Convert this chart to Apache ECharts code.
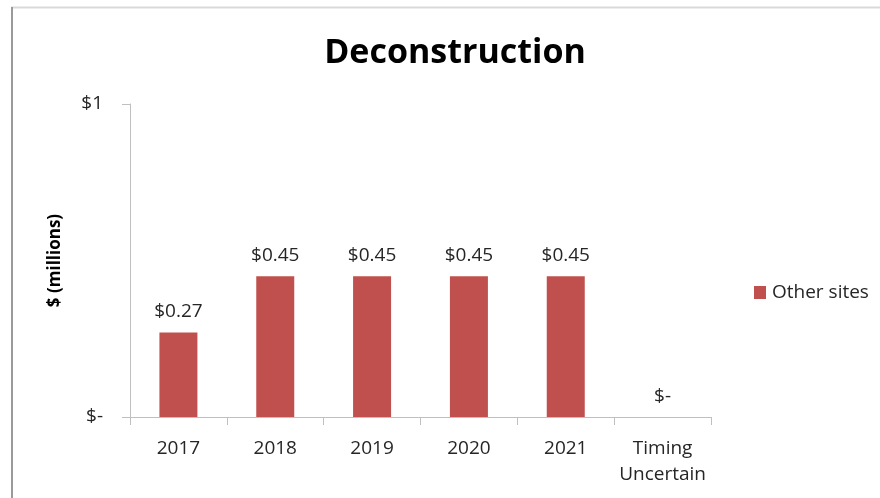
<!DOCTYPE html>
<html>
<head>
<meta charset="utf-8">
<script src="https://cdn.jsdelivr.net/npm/echarts@6/dist/echarts.min.js"></script>
<style>
  html, body { margin: 0; padding: 0; background: #ffffff; }
  #chart { width: 880px; height: 498px; }
</style>
</head>
<body>
<div id="chart"></div>
<script>
// Deconstruction spending by year ($ millions)
const categories = ['2017', '2018', '2019', '2020', '2021', 'Timing\nUncertain'];
const otherSites = [0.27, 0.45, 0.45, 0.45, 0.45, 0];
const seriesName = 'Other sites';
const yTicks = { 0: '$-', 1: '$1' };

const FONT = '"Open Sans", "Noto Sans", sans-serif';
const TEXT = '#262626';

const chart = echarts.init(document.getElementById('chart'), null, { renderer: 'canvas' });

chart.setOption({
  animation: false,
  backgroundColor: '#ffffff',
  textStyle: { fontFamily: FONT },
  title: {
    text: 'Deconstruction',
    left: 450,
    textAlign: 'center',
    top: 31,
    textStyle: { fontFamily: FONT, fontSize: 34, fontWeight: 'bold', color: '#000000' }
  },
  legend: {
    data: [seriesName],
    orient: 'vertical',
    left: 749,
    top: 278,
    itemWidth: 12,
    itemHeight: 13,
    itemGap: 0,
    icon: 'rect',
    textStyle: { fontFamily: FONT, fontSize: 19, color: TEXT, padding: [0, 0, 0, 1] }
  },
  grid: { left: 130, right: 169, top: 104, bottom: 81, containLabel: false },
  xAxis: {
    type: 'category',
    data: categories,
    boundaryGap: true,
    axisLine: { lineStyle: { color: '#bfbfbf', width: 1 } },
    axisTick: { show: true, length: 8, alignWithLabel: false, lineStyle: { color: '#bfbfbf' } },
    axisLabel: {
      interval: 0,
      margin: 19,
      fontFamily: FONT,
      fontSize: 19,
      lineHeight: 26,
      color: TEXT
    }
  },
  yAxis: {
    type: 'value',
    min: 0,
    max: 1,
    interval: 1,
    name: '$ (millions)',
    nameLocation: 'middle',
    nameGap: 66,
    nameRotate: 90,
    nameTextStyle: { fontFamily: FONT, fontSize: 17, fontWeight: 'bold', color: '#000000' },
    axisLine: { show: true, lineStyle: { color: '#bfbfbf', width: 1 } },
    axisTick: { show: true, length: 8, lineStyle: { color: '#bfbfbf' } },
    splitLine: { show: false },
    axisLabel: {
      margin: 27,
      fontFamily: FONT,
      fontSize: 19,
      color: TEXT,
      formatter: v => yTicks[v] !== undefined ? yTicks[v] : ''
    }
  },
  series: [{
    name: seriesName,
    type: 'bar',
    data: otherSites,
    barWidth: 38,
    itemStyle: { color: '#c0504d' },
    label: {
      show: true,
      position: 'top',
      distance: 11,
      fontFamily: FONT,
      fontSize: 19,
      color: TEXT,
      formatter: p => p.value === 0 ? '$-' : '$' + p.value.toFixed(2)
    }
  }],
  graphic: [
    { type: 'line', shape: { x1: 11, y1: 7.5, x2: 880, y2: 7.5 }, style: { stroke: '#d9d9d9', lineWidth: 2 }, silent: true },
    { type: 'line', shape: { x1: 12, y1: 7, x2: 12, y2: 498 }, style: { stroke: '#9a9a9a', lineWidth: 2 }, silent: true }
  ]
});
</script>
</body>
</html>
